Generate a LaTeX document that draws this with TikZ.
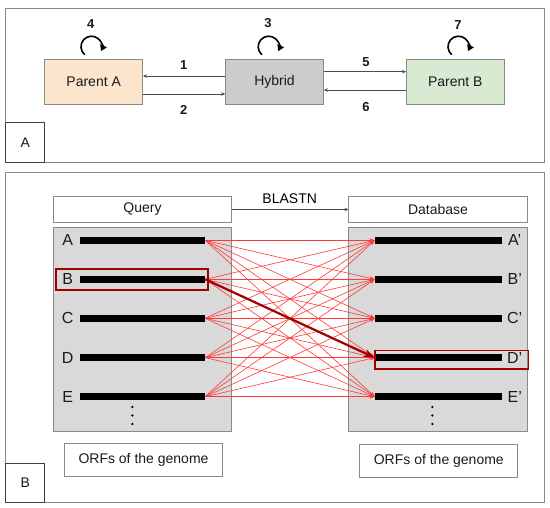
\documentclass[tikz,border=0pt]{standalone}
\usepackage{fontspec}
\setmainfont{Liberation Sans}
\usetikzlibrary{arrows.meta,calc}
\definecolor{bordergray}{HTML}{8A8A8A}
\definecolor{panelgray}{HTML}{D9D9D9}
\definecolor{peach}{HTML}{FCE5CD}
\definecolor{hybgray}{HTML}{CCCCCC}
\definecolor{mint}{HTML}{D9EAD3}
\definecolor{hired}{HTML}{A00000}
\definecolor{linkred}{HTML}{FF3838}
\definecolor{txt}{HTML}{1A1A1A}
\tikzset{
  nodebox/.style={draw=bordergray, line width=1pt, minimum height=44.7pt, minimum width=97.5pt, inner sep=0pt, text=txt},
  hdrbox/.style={draw=bordergray, fill=white, line width=0.9pt, minimum width=178.4pt, minimum height=25.6pt, inner sep=0pt, text=txt},
  orfbox/.style={draw=bordergray, fill=white, line width=0.9pt, minimum width=158pt, minimum height=33pt, inner sep=0pt, text=txt},
  graypanel/.style={draw=bordergray, fill=panelgray, line width=0.9pt, minimum width=178.4pt, minimum height=203.7pt, inner sep=0pt},
  orfbar/.style={fill=black, minimum height=6.5pt, inner sep=0pt},
  hitlink/.style={draw=linkred, line width=0.6pt, -{Stealth[length=5pt,width=4pt]}},
  hilite/.style={draw=hired, line width=1.6pt},
  numlbl/.style={font=\fontsize{13}{15}\selectfont\bfseries, text=txt},
  rowlbl/.style={font=\fontsize{16}{18}\selectfont, text=txt},
  selfloop/.style={line width=1.6pt, -{Triangle[length=6pt,width=7pt]}},
  conn/.style={draw=black!70, line width=0.7pt, -{Stealth[length=4pt,width=3.5pt]}},
  tagbox/.style={draw=black!75, fill=white, line width=0.9pt, minimum width=39pt, minimum height=40pt, inner sep=0pt, text=txt},
  panel/.style={draw=bordergray, line width=1pt}
}
\begin{document}
\begin{tikzpicture}[x=1pt,y=-1pt, font=\fontsize{14}{16}\selectfont]
\useasboundingbox (0,0) rectangle (550,508);
% ---------- Panel A ----------
\draw[panel] (5.7,8.3) rectangle (544,163);
\node[tagbox] (tagA) at (25.2,142.8) {A};
\node[nodebox, fill=peach] (pa) at (93.7,81.7) {Parent A};
\node[nodebox, fill=hybgray] (hy) at (274.5,81.7) {Hybrid};
\node[nodebox, fill=mint] (pb) at (455.3,81.7) {Parent B};
\draw[conn] ([yshift=5.7pt]hy.west) -- ([yshift=5.7pt]pa.east);
\draw[conn] ([yshift=-12.3pt]pa.east) -- ([yshift=-12.3pt]hy.west);
\draw[conn] ([yshift=10pt]hy.east) -- ([yshift=10pt]pb.west);
\draw[conn] ([yshift=-8.3pt]pb.west) -- ([yshift=-8.3pt]hy.east);
\node[numlbl] (n1) at (183.8,65) {1};
\node[numlbl] (n2) at (183.8,110) {2};
\node[numlbl] (n5) at (366,61.7) {5};
\node[numlbl] (n6) at (366,107) {6};
\coordinate (c4) at (91.5,46.7);
\coordinate (c3) at (268.7,46.7);
\coordinate (c7) at (458.5,46.7);
\foreach \c in {c4,c3,c7}{
  \draw[selfloop] ([shift={(130:10.5)}]\c) arc[start angle=130, end angle=385, radius=10.5];
}
\node[numlbl] (n4) at (90.7,24) {4};
\node[numlbl] (n3) at (268,23) {3};
\node[numlbl] (n7) at (458,25) {7};
% ---------- Panel B ----------
\draw[panel] (5.7,173) rectangle (544,502);
\node[tagbox, minimum height=39pt] (tagB) at (25.2,482.5) {B};
\node[hdrbox] (query) at (142.5,209.5) {Query};
\node[hdrbox] (db) at (438,209.5) {Database};
\draw[conn] (query.east) -- (db.west);
\node (blastn) at (289.7,198.3) {BLASTN};
\node[graypanel] (lp) at (142.5,329.2) {};
\node[graypanel] (rp) at (438,329.2) {};
\foreach \n/\y/\l in {a/240.3/A, b/279.3/B, c/318.3/C, d/357.7/D, e/396.7/E}{
  \node[orfbar, minimum width=125pt] (q\n) at (142.5,\y) {};
  \node[orfbar, minimum width=126.7pt] (d\n) at (438.3,\y) {};
  \node[rowlbl] (ql\n) at (67.7,\y) {\l};
  \node[rowlbl] (dl\n) at (514.7,\y) {\l’};
}
\foreach \yy in {407,415.5,424}{
  \fill (132.3,\yy) circle (1.3);
  \fill (432.3,\yy) circle (1.3);
}
\node[orfbox] (orfl) at (143.5,460) {ORFs of the genome};
\node[orfbox] (orfr) at (438.8,461.2) {ORFs of the genome};
\foreach \s in {a,b,c,d,e}{
  \foreach \t in {a,b,c,d,e}{
    \draw[hitlink] (q\s.east) -- (d\t.west);
  }
}
\draw[hired, line width=2.2pt, -{Stealth[length=11pt,width=8pt]}] (qb.east) -- (dd.west);
\draw[hilite] (55.7,269.3) rectangle (208,290);
\draw[hilite] (375,350.7) rectangle (528.3,369);
\end{tikzpicture}
\end{document}
